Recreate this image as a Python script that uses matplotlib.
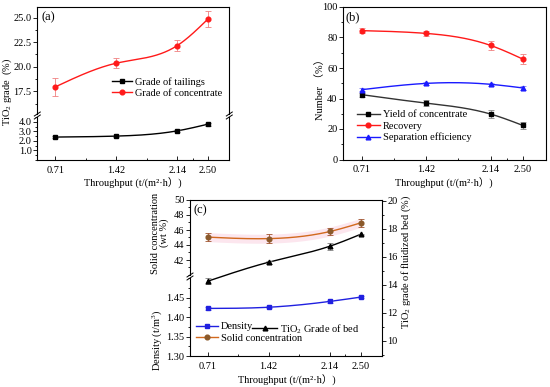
import numpy as np
import matplotlib
matplotlib.use('Agg')
import matplotlib.pyplot as plt
from matplotlib.ticker import MultipleLocator, FixedLocator, FormatStrFormatter
from matplotlib.lines import Line2D

plt.rcParams['font.family'] = ['Liberation Serif', 'Noto Sans CJK SC']
plt.rcParams['mathtext.fontset'] = 'custom'
plt.rcParams['mathtext.rm'] = 'Liberation Serif'
plt.rcParams['mathtext.it'] = 'Liberation Serif:italic'
plt.rcParams['font.size'] = 7.5

# ---------------- data ----------------
throughput = [0.71, 1.42, 2.14, 2.50]
x_ticklabels = ['0.71', '1.42', '2.14', '2.50']

# (a)
grade_concentrate = [17.95, 20.35, 22.15, 24.85]
grade_concentrate_err = [0.95, 0.5, 0.55, 0.8]
grade_tailings = [2.4, 2.5, 3.05, 3.75]
grade_tailings_err = [0.15, 0.08, 0.08, 0.15]

# (b)
yield_conc = [42.5, 37.0, 29.8, 22.3]
yield_err = [1.2, 2.0, 2.5, 2.0]
recovery = [84.5, 82.7, 74.8, 65.8]
recovery_err = [1.5, 1.5, 2.8, 3.5]
sep_eff = [45.8, 49.9, 49.3, 46.9]
sep_err = [0.8, 0.8, 0.8, 1.0]

# (c)
density = [1.422, 1.425, 1.440, 1.451]
density_err = [0.004, 0.002, 0.004, 0.002]
solid_conc = [45.05, 44.85, 45.8, 46.95]
solid_err = [0.55, 0.55, 0.5, 0.55]
bed_grade = [14.25, 15.6, 16.75, 17.6]
bed_err = [0.2, 0.1, 0.25, 0.05]

W, H = 550, 387
fig = plt.figure(figsize=(W / 100, H / 100), dpi=100)


def rect(l, t, r, b):
    return [l / W, 1 - b / H, (r - l) / W, (b - t) / H]


def fxy(x, y):
    return (x / W, 1 - y / H)


def spline(x, y, n=200):
    x = np.asarray(x, float)
    y = np.asarray(y, float)
    m = len(x)
    h = np.diff(x)
    A = np.zeros((m, m))
    r = np.zeros(m)
    A[0, 0] = A[-1, -1] = 1
    for i in range(1, m - 1):
        A[i, i - 1] = h[i - 1]
        A[i, i] = 2 * (h[i - 1] + h[i])
        A[i, i + 1] = h[i]
        r[i] = 6 * ((y[i + 1] - y[i]) / h[i] - (y[i] - y[i - 1]) / h[i - 1])
    M = np.linalg.solve(A, r)
    xs = np.linspace(x[0], x[-1], n)
    idx = np.clip(np.searchsorted(x, xs) - 1, 0, m - 2)
    x0 = x[idx]
    x1 = x[idx + 1]
    hh = x1 - x0
    a = (x1 - xs) / hh
    b = (xs - x0) / hh
    ys = a * y[idx] + b * y[idx + 1] + ((a ** 3 - a) * M[idx] + (b ** 3 - b) * M[idx + 1]) * hh ** 2 / 6
    return xs, ys


def series(ax, x, y, err, color, marker, ecolor, mcolor=None):
    mcolor = mcolor or color
    xs, ys = spline(x, y)
    ax.plot(xs, ys, color=color, lw=1.0, zorder=2)
    ax.errorbar(x, y, yerr=err, fmt=marker, color=mcolor, ms=3.4, ecolor=ecolor,
                elinewidth=0.6, capsize=2, capthick=0.6, zorder=3)
    return Line2D([], [], color=color, marker=marker, ms=3.4, lw=1.0,
                  markerfacecolor=mcolor, markeredgecolor=mcolor)


mids = [(a + b) / 2 for a, b in zip(throughput[:-1], throughput[1:])]


def xstyle(ax, labels=True):
    ax.set_xlim(0.5, 2.75)
    ax.set_xticks(throughput)
    ax.set_xticklabels(x_ticklabels if labels else [])
    ax.xaxis.set_minor_locator(FixedLocator(mids))
    ax.tick_params(axis='x', which='major', direction='in', length=3, width=0.6, pad=4)
    ax.tick_params(axis='x', which='minor', direction='in', length=1.5, width=0.6)
    ax.tick_params(axis='y', which='major', direction='out', length=3, width=0.6, pad=1)
    ax.tick_params(axis='y', which='minor', direction='out', length=1.5, width=0.6)
    ax.tick_params(top=False, right=False, which='both')
    for s in ax.spines.values():
        s.set_linewidth(0.8)


def brk(xp, yp):
    for dy in (-1.5, 1.5):
        fig.add_artist(Line2D([(xp - 3) / W, (xp + 3) / W],
                              [1 - (yp + dy + 2) / H, 1 - (yp + dy - 2) / H],
                              color='black', lw=0.7))


legkw = dict(frameon=False, fontsize=7.5, borderpad=0, borderaxespad=0,
             handletextpad=0.3, labelspacing=0.2, loc='upper left')

# ---------------- (a) ----------------
axA1 = fig.add_axes(rect(37.3, 6.7, 229.3, 114))
axA2 = fig.add_axes(rect(37.3, 117, 229.3, 160))
xstyle(axA1, labels=False)
xstyle(axA2)
axA1.tick_params(axis='x', which='both', bottom=False)
axA1.spines['bottom'].set_visible(False)
axA2.spines['top'].set_visible(False)
axA1.set_ylim(15.2, 26.1)
axA1.set_yticks([17.5, 20.0, 22.5, 25.0])
axA1.yaxis.set_minor_locator(MultipleLocator(1.25))
axA1.yaxis.set_major_formatter(FormatStrFormatter('%.1f'))
axA2.set_ylim(0, 4.5)
axA2.set_yticks([1.0, 2.0, 3.0, 4.0])
axA2.yaxis.set_minor_locator(MultipleLocator(0.5))
axA2.yaxis.set_major_formatter(FormatStrFormatter('%.1f'))

hA_c = series(axA1, throughput, grade_concentrate, grade_concentrate_err, '#ff1a1a', 'o', '#f08080')
hA_t = series(axA2, throughput, grade_tailings, grade_tailings_err, 'black', 's', '#808080')
brk(37.3, 115.5)
brk(229.3, 115.5)
fig.legend([hA_t, hA_c], ['Grade of tailings', 'Grade of concentrate'],
           bbox_to_anchor=fxy(112, 77), handlelength=1.9, **legkw)
fig.text(*fxy(41, 17.5), '(a)', fontsize=9, ha='left', va='center')
fig.text(*fxy(7, 92), 'TiO$_2$ grade  (%)', rotation=90, ha='center', va='center')
fig.text(*fxy(133, 183), 'Throughput (t/(m²·h）)', ha='center', va='center')

# ---------------- (b) ----------------
axB = fig.add_axes(rect(343, 7, 545.5, 159.5))
xstyle(axB)
axB.set_ylim(0, 100)
axB.yaxis.set_major_locator(MultipleLocator(20))
axB.yaxis.set_minor_locator(MultipleLocator(10))
hB_y = series(axB, throughput, yield_conc, yield_err, '#333333', 's', '#888888', 'black')
hB_r = series(axB, throughput, recovery, recovery_err, '#ff1a1a', 'o', '#f08080')
hB_s = series(axB, throughput, sep_eff, sep_err, '#1a1aff', '^', '#8080f0')
fig.legend([hB_y, hB_r, hB_s], ['Yield of concentrate', 'Recovery', 'Separation efficiency'],
           bbox_to_anchor=fxy(357, 110), handlelength=2.2, **legkw)
fig.text(*fxy(345, 17), '(b)', fontsize=9, ha='left', va='center')
fig.text(*fxy(320, 87), 'Number （%）', rotation=90, ha='center', va='center')
fig.text(*fxy(444, 183), 'Throughput (t/(m²·h）)', ha='center', va='center')

# ---------------- (c) ----------------
axC = fig.add_axes(rect(190, 200, 382, 356))
xstyle(axC)
axC.spines['left'].set_visible(False)
axC.yaxis.tick_right()
axC.set_ylim(8.9, 20.05)
axC.yaxis.set_major_locator(MultipleLocator(2))
axC.yaxis.set_minor_locator(MultipleLocator(1))
axC.tick_params(axis='y', which='both', right=True, left=False, direction='out', pad=1)

axCu = fig.add_axes(rect(190, 200, 382, 275))
axCl = fig.add_axes(rect(190, 278, 382, 356))
for a in (axCu, axCl):
    a.patch.set_visible(False)
    xstyle(a, labels=False)
    a.tick_params(axis='x', which='both', bottom=False, top=False)
    for s in ('top', 'right', 'bottom'):
        a.spines[s].set_visible(False)
axCu.set_ylim(40, 50)
axCu.set_yticks([42, 44, 46, 48, 50])
axCu.yaxis.set_minor_locator(MultipleLocator(1))
axCl.set_ylim(1.30, 1.50)
axCl.set_yticks([1.30, 1.35, 1.40, 1.45])
axCl.yaxis.set_minor_locator(MultipleLocator(0.025))
axCl.yaxis.set_major_formatter(FormatStrFormatter('%.2f'))
brk(190, 276.5)

xs_s, ys_s = spline(throughput, solid_conc)
axCu.fill_between(xs_s, ys_s - 0.6, ys_s + 0.6, color='#fce6ee', lw=0, zorder=1)
hC_s = series(axCu, throughput, solid_conc, solid_err, '#d2691e', 'o', '#a0522d', '#8b5a2b')
hC_d = series(axCl, throughput, density, density_err, '#2020e0', 's', '#8080f0')
hC_b = series(axC, throughput, bed_grade, bed_err, 'black', '^', '#808080')

fig.legend([hC_d, hC_s], ['Density', 'Solid concentration'],
           bbox_to_anchor=fxy(196, 322), handlelength=2.1, **legkw)
fig.legend([hC_b], ['TiO$_2$ Grade of bed'],
           bbox_to_anchor=fxy(252, 322), handlelength=2.4, **legkw)
fig.text(*fxy(194, 210), '(c)', fontsize=9, ha='left', va='center')
fig.text(*fxy(160, 233), 'Solid concentration\n(wt %)', rotation=90, ha='center', va='center',
         linespacing=1.0)
fig.text(*fxy(157, 340), 'Density (t/m$^3$)', rotation=90, ha='center', va='center')
fig.text(*fxy(406, 262), 'TiO$_2$ grade of fluidized bed (%)', rotation=90, ha='center', va='center')
fig.text(*fxy(287, 380), 'Throughput (t/(m²·h）)', ha='center', va='center')

fig.savefig('out.png', dpi=100)
